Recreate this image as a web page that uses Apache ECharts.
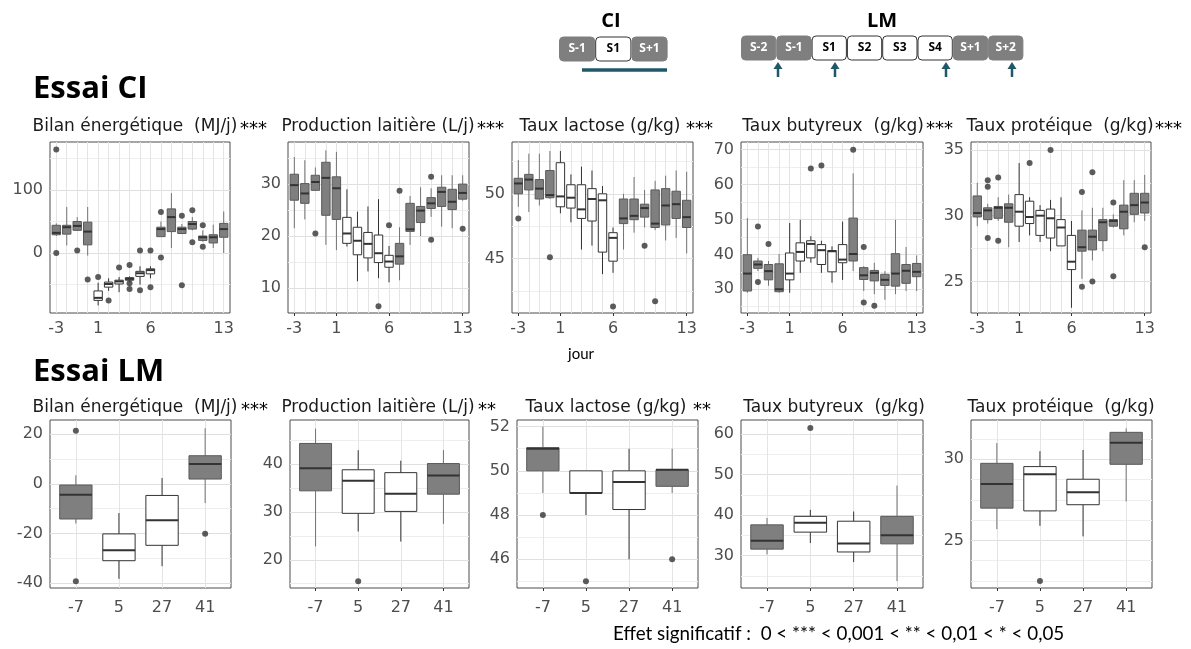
<!DOCTYPE html>
<html><head><meta charset="utf-8">
<script src="https://cdn.jsdelivr.net/npm/echarts@6/dist/echarts.min.js"></script>
<style>html,body{margin:0;padding:0;background:#fff}#c{width:1191px;height:649px}</style>
</head><body><div id="c"></div>
<script>
// ---------- categories ----------
const ciDays = ['-3','-2','-1','0','1','2','3','4','5','6','7','8','9','10','11','12','13'];
const ciDayLabels = ['-3','1','6','13'];
const ciWhiteDays = ['1','2','3','4','5','6'];
const ciWhiteDaysProd = ['2','3','4','5','6'];
const lmDays = ['-7','5','27','41'];
const lmWhiteDays = ['5','27'];

// ---------- Essai CI : [min, Q1, median, Q3, max] per day ----------
const ciBilanBoxes = [[27,29,32,44,47],[12,30,41,44,73],[35,36,43,50,57],[-4,13,34,49,73],[-83,-75,-71,-60,-47],[-60,-54,-49,-46,-40],[-62,-49,-45,-43,-38],[-46,-43,-41,-39,-37],[-50,-37,-32,-29,-21],[-40,-33,-27,-25,-21],[26,26,38,41,50],[8,34,57,70,95],[30,31,38,41,46],[36,38,46,50,57],[18,20,25,27,36],[8,16,25,29,45],[0,25,38,47,66]];
const ciBilanOutliers = [['-3',164],['-3',0],['-1',4],['0',-42],['1',-38],['2',-75],['3',-23],['4',-19],['4',-48],['4',-57],['5',4],['5',-59],['6',4],['6',-54],['7',65],['7',-7],['9',59],['9',-51],['10',68],['10',17],['11',44],['11',10]];

const ciProdBoxes = [[21.5,26.9,29.8,31.9,35.2],[23.2,26.3,28.2,30.1,34.6],[28.8,28.8,30.4,31.7,33.2],[18.3,24.0,31.2,34.2,36.5],[17.3,23.2,29.2,31.4,36.2],[18.0,18.6,20.5,23.6,29.0],[11.3,16.4,19.1,21.7,24.7],[13.2,15.8,18.5,20.7,25.7],[11.9,14.9,16.7,20.2,27.1],[11.1,14.0,15.1,16.3,18.1],[11.5,14.6,16.1,18.6,21.7],[18.3,20.9,21.3,26.3,27.7],[20.0,22.6,24.9,25.7,29.4],[23.7,25.3,26.3,27.4,29.2],[21.8,25.7,28.5,29.4,31.7],[21.5,25.1,26.6,29.0,31.7],[26.8,27.1,28.3,30.0,31.7]];
const ciProdOutliers = [['-1',20.5],['5',6.5],['6',22.1],['7',28.7],['10',31.4],['10',19.3],['13',21.4]];

const ciLactBoxes = [[49.0,50.0,50.8,51.2,52.6],[48.6,50.3,51.1,51.5,53.1],[49.1,49.6,50.4,51.1,53.1],[49.6,49.7,49.9,51.8,53.3],[48.5,49.0,49.8,52.4,53.3],[47.8,48.9,49.7,50.7,51.5],[45.7,48.1,48.8,50.7,52.1],[46.0,47.9,49.6,50.4,51.8],[43.8,45.5,49.5,50.0,50.6],[43.9,44.8,46.6,47.0,47.4],[45.7,47.7,48.1,49.6,50.0],[47.0,48.0,48.3,49.6,51.3],[47.4,48.2,48.9,49.2,50.3],[47.2,47.4,47.7,50.3,51.0],[46.4,47.6,49.1,50.4,51.4],[46.6,48.1,49.2,50.2,51.8],[45.4,47.4,48.2,49.5,51.7]];
const ciLactOutliers = [['-3',48.1],['0',45.1],['6',41.3],['9',46.0],['10',41.7]];

const ciButyBoxes = [[29.0,29.5,34.5,39.9,50.4],[35.2,36.0,37.1,38.1,39.0],[31.0,32.7,35.2,37.1,38.1],[29.0,29.3,30.0,37.3,40.1],[29.0,32.7,34.5,40.4,49.0],[34.7,38.1,40.7,43.3,49.9],[37.6,39.0,43.0,43.9,45.2],[34.7,37.1,41.2,42.8,43.9],[31.9,35.0,40.9,41.1,42.3],[32.7,37.6,38.5,42.8,49.4],[35.2,38.1,40.1,50.4,63.2],[29.5,32.8,34.0,36.2,36.6],[28.6,32.4,34.7,35.4,37.6],[27.0,31.1,32.7,34.3,35.2],[28.6,30.9,34.5,40.2,49.9],[29.5,31.7,35.3,37.1,42.1],[29.5,33.6,35.0,37.4,39.7]];
const ciButyOutliers = [['-2',48.0],['-2',32.1],['-1',43.0],['3',64.6],['4',65.5],['7',70.0],['8',42.1],['8',26.2],['9',25.3]];

const ciProtBoxes = [[29.2,29.9,30.2,31.5,32.5],[29.4,29.7,30.4,30.6,30.9],[29.6,29.8,30.6,30.7,31.4],[27.6,29.5,30.6,30.9,31.6],[28.0,29.2,30.3,31.6,34.0],[28.5,29.4,29.9,31.1,31.4],[28.0,28.5,30.0,30.4,30.8],[27.3,28.3,29.8,30.5,31.2],[27.7,27.7,29.1,29.7,31.4],[23.0,25.9,26.5,28.5,29.6],[25.2,27.3,27.6,28.9,30.4],[26.6,27.4,28.4,28.9,30.6],[27.3,28.1,29.5,29.7,30.6],[29.1,29.2,29.6,29.7,30.1],[28.5,29.0,30.3,30.8,32.7],[29.5,30.1,30.8,31.7,32.7],[29.6,30.2,31.0,31.7,33.1]];
const ciProtOutliers = [['-2',32.7],['-2',32.2],['-2',28.3],['-1',32.9],['-1',28.1],['2',34.0],['4',35.0],['7',31.8],['7',24.6],['8',33.3],['8',25.0],['10',31.0],['10',25.4],['13',27.6]];

// ---------- Essai LM ----------
const lmBilanBoxes = [[-16,-14.2,-4.4,-0.5,3.4],[-38.3,-31,-26.8,-20.2,-11.8],[-33.2,-24.8,-14.7,-4.7,2.3],[-7.8,1.9,8,11.3,22.4]];
const lmBilanOutliers = [['-7',21.4],['-7',-39.3],['41',-20.1]];
const lmProdBoxes = [[22.8,34.4,39.1,44.3,47.4],[25.9,29.7,36.5,38.8,42.9],[23.8,30.1,33.8,38.2,40.7],[27.5,33.7,37.6,40.1,42.9]];
const lmProdOutliers = [['5',15.5]];
const lmLactBoxes = [[49,50,51,51.05,52],[48,49,49,50,50],[46,48.25,49.5,50,51],[49,49.3,50.05,50.05,51]];
const lmLactOutliers = [['-7',48],['5',45],['41',46]];
const lmButyBoxes = [[30.3,31.6,33.7,37.6,39.3],[33.1,35.8,38.1,39.7,41.3],[28.4,30.9,33,38.5,40.9],[23.7,32.9,35,39.7,47.3]];
const lmButyOutliers = [['5',61.5]];
const lmProtBoxes = [[25.7,26.99,28.48,29.75,31],[25.9,26.82,29.08,29.55,30.5],[25.25,27.2,27.97,28.77,30.57],[27.4,29.69,31.02,31.66,31.9]];
const lmProtOutliers = [['5',22.5]];

// ---------- tick labels / grid values ----------
const ciBilanTicks = [0,100], ciBilanMinor = [-50,50,150];
const ciProdTicks = [10,20,30], ciProdMinor = [15,25,35];
const ciLactTicks = [45,50], ciLactMinor = [42.5,47.5,52.5];
const ciButyTicks = [30,40,50,60,70], ciButyMinor = [25,35,45,55,65];
const ciProtTicks = [25,30,35], ciProtMinor = [27.5,32.5];
const lmBilanTicks = [-40,-20,0,20], lmBilanMinor = [-30,-10,10];
const lmProdTicks = [20,30,40], lmProdMinor = [15,25,35,45];
const lmLactTicks = [46,48,50,52], lmLactMinor = [45,47,49,51];
const lmButyTicks = [30,40,50,60], lmButyMinor = [25,35,45,55];
const lmProtTicks = [25,30], lmProtMinor = [22.5,23.75,26.25,27.5,28.75,31.25];

// ---------- panel layout ----------
const panels = [
  {boxes:ciBilanBoxes, out:ciBilanOutliers, cats:ciDays, lab:ciDayLabels, white:ciWhiteDays, ticks:ciBilanTicks, minor:ciBilanMinor, y:[-95,176], g:[50,142,180,171], frac:0.8, title:'Bilan énergétique  (MJ/j)', tx:135, stars:'***', sx:240},
  {boxes:ciProdBoxes, out:ciProdOutliers, cats:ciDays, lab:ciDayLabels, white:ciWhiteDaysProd, ticks:ciProdTicks, minor:ciProdMinor, y:[5.2,38.1], g:[288,142,181,171], frac:0.8, title:'Production laitière (L/j)', tx:378, stars:'***', sx:477},
  {boxes:ciLactBoxes, out:ciLactOutliers, cats:ciDays, lab:ciDayLabels, white:ciWhiteDays, ticks:ciLactTicks, minor:ciLactMinor, y:[40.8,54.0], g:[512,142,181,171], frac:0.8, title:'Taux lactose (g/kg)', tx:600, stars:'***', sx:686},
  {boxes:ciButyBoxes, out:ciButyOutliers, cats:ciDays, lab:ciDayLabels, white:ciWhiteDays, ticks:ciButyTicks, minor:ciButyMinor, y:[23.2,72.2], g:[741,142,182,171], frac:0.8, title:'Taux butyreux  (g/kg)', tx:833, stars:'***', sx:926},
  {boxes:ciProtBoxes, out:ciProtOutliers, cats:ciDays, lab:ciDayLabels, white:ciWhiteDays, ticks:ciProtTicks, minor:ciProtMinor, y:[22.6,35.6], g:[971,142,180,171], frac:0.8, title:'Taux protéique  (g/kg)', tx:1060, stars:'***', sx:1155},
  {boxes:lmBilanBoxes, out:lmBilanOutliers, cats:lmDays, lab:lmDays, white:lmWhiteDays, ticks:lmBilanTicks, minor:lmBilanMinor, y:[-42,25.7], g:[50,420,181,168], frac:0.75, title:'Bilan énergétique  (MJ/j)', tx:135, stars:'***', sx:241},
  {boxes:lmProdBoxes, out:lmProdOutliers, cats:lmDays, lab:lmDays, white:lmWhiteDays, ticks:lmProdTicks, minor:lmProdMinor, y:[14.1,49.2], g:[290,420,179,168], frac:0.75, title:'Production laitière (L/j)', tx:378, stars:'**', sx:478},
  {boxes:lmLactBoxes, out:lmLactOutliers, cats:lmDays, lab:lmDays, white:lmWhiteDays, ticks:lmLactTicks, minor:lmLactMinor, y:[44.7,52.3], g:[517,420,181,168], frac:0.75, title:'Taux lactose (g/kg)', tx:606, stars:'**', sx:693},
  {boxes:lmButyBoxes, out:lmButyOutliers, cats:lmDays, lab:lmDays, white:lmWhiteDays, ticks:lmButyTicks, minor:lmButyMinor, y:[22.0,63.5], g:[741,420,182,168], frac:0.75, title:'Taux butyreux  (g/kg)', tx:834, stars:'', sx:0},
  {boxes:lmProtBoxes, out:lmProtOutliers, cats:lmDays, lab:lmDays, white:lmWhiteDays, ticks:lmProtTicks, minor:lmProtMinor, y:[22.07,32.42], g:[971,420,181,168], frac:0.75, title:'Taux protéique  (g/kg)', tx:1061, stars:'', sx:0}
];

const FONT = '"DejaVu Sans", sans-serif';
const grids = [], xAxes = [], yAxes = [], series = [], graphics = [];

function makeRender(cats, whiteList, frac) {
  return function (params, api) {
    const i = api.value(0);
    const p = [1,2,3,4,5].map(k => api.coord([i, api.value(k)]));
    const cx = p[0][0];
    const w = api.size([frac, 0])[0];
    const white = whiteList.indexOf(cats[i]) >= 0;
    const fill = white ? '#ffffff' : '#7f7f7f';
    const stroke = white ? '#333333' : '#5a5a5a';
    const whisk = white ? '#333333' : '#737373';
    return {type:'group', children:[
      {type:'line', shape:{x1:cx, y1:p[0][1], x2:cx, y2:p[1][1]}, style:{stroke:whisk, lineWidth:1}},
      {type:'line', shape:{x1:cx, y1:p[3][1], x2:cx, y2:p[4][1]}, style:{stroke:whisk, lineWidth:1}},
      {type:'rect', shape:{x:cx-w/2, y:p[3][1], width:w, height:p[1][1]-p[3][1]}, style:{fill:fill, stroke:stroke, lineWidth:1}},
      {type:'line', shape:{x1:cx-w/2, y1:p[2][1], x2:cx+w/2, y2:p[2][1]}, style:{stroke:'#333333', lineWidth:2}}
    ]};
  };
}

panels.forEach((P, k) => {
  const top = k < 5;
  const n = P.cats.length;
  grids.push({left:P.g[0], top:P.g[1], width:P.g[2], height:P.g[3], show:true, borderColor:'#4d4d4d', borderWidth:1, backgroundColor:'#fff', containLabel:false});
  const labIdx = P.lab.map(c => P.cats.indexOf(c));
  xAxes.push({gridIndex:k, type:'value', min:-0.6, max:n-1+0.6,
    axisLine:{show:false}, splitLine:{show:false},
    axisTick:{show:true, customValues:labIdx, length:3, lineStyle:{color:'#333'}},
    axisLabel:{customValues:labIdx, formatter:v => P.cats[Math.round(v)], color:'#4d4d4d', fontSize:16, fontFamily:'DejaVu Sans', margin: top ? 8 : 12}});
  yAxes.push({gridIndex:k, type:'value', min:P.y[0], max:P.y[1],
    axisLine:{show:false}, splitLine:{show:false},
    axisTick:{show:true, customValues:P.ticks, length:3, lineStyle:{color:'#333'}},
    axisLabel:{customValues:P.ticks, color:'#4d4d4d', fontSize:16, fontFamily:'DejaVu Sans', margin:7}});
  const gl = [];
  P.ticks.forEach(v => gl.push({yAxis:v, lineStyle:{color:'#e0e0e0', width:1, type:'solid'}}));
  P.minor.forEach(v => gl.push({yAxis:v, lineStyle:{color:'#eeeeee', width:1, type:'solid'}}));
  P.cats.forEach((c, i) => gl.push({xAxis:i, lineStyle:{color:'#e4e4e4', width:1, type:'solid'}}));
  series.push({type:'scatter', xAxisIndex:k, yAxisIndex:k, z:4, symbolSize:6, itemStyle:{color:'#333'},
    data:P.out.map(o => [P.cats.indexOf(o[0]), o[1]]),
    markLine:{silent:true, z:1, symbol:['none','none'], label:{show:false}, emphasis:{disabled:true}, animation:false, data:gl}});
  series.push({type:'custom', xAxisIndex:k, yAxisIndex:k, z:3, renderItem:makeRender(P.cats, P.white, P.frac),
    encode:{x:0, y:[1,2,3,4,5]}, data:P.boxes.map((b, i) => [i].concat(b))});
  const ty = top ? 127 : 408;
  graphics.push({type:'text', x:P.tx, y:ty, style:{text:P.title, fill:'#1a1a1a', font:'17px '+FONT, textAlign:'center', textVerticalAlign:'middle'}});
  if (P.stars) graphics.push({type:'text', x:P.sx, y:ty+2, style:{text:P.stars, fill:'#000', font:'18px '+FONT, textAlign:'left', textVerticalAlign:'middle'}});
});

// headings & notes
const SANS = '"Open Sans", Lato, sans-serif';
graphics.push({type:'text', x:33, y:89, style:{text:'Essai CI', fill:'#000', font:'bold 31px '+SANS, textVerticalAlign:'middle'}});
graphics.push({type:'text', x:33, y:372, style:{text:'Essai LM', fill:'#000', font:'bold 31px '+SANS, textVerticalAlign:'middle'}});
graphics.push({type:'text', x:581, y:354, style:{text:'jour', fill:'#000', font:'15px Lato, sans-serif', textAlign:'center', textVerticalAlign:'middle'}});
graphics.push({type:'text', x:613, y:634, style:{text:'Effet significatif :  0 < *** < 0,001 < ** < 0,01 < * < 0,05', fill:'#000', font:'18.8px Lato, sans-serif', textVerticalAlign:'middle'}});

// period diagram
const ciPeriods = ['S-1','S1','S+1'];
const ciPeriodsWhite = ['S1'];
const lmPeriods = ['S-2','S-1','S1','S2','S3','S4','S+1','S+2'];
const lmPeriodsWhite = ['S1','S2','S3','S4'];
const TEAL = '#1f5868';
graphics.push({type:'text', x:611, y:21, style:{text:'CI', fill:'#000', font:'bold 20px '+SANS, textAlign:'center', textVerticalAlign:'middle'}});
graphics.push({type:'text', x:882, y:21, style:{text:'LM', fill:'#000', font:'bold 20px '+SANS, textAlign:'center', textVerticalAlign:'middle'}});
function periodBoxes(list, whites, x0, w, y0, h) {
  list.forEach((s, i) => {
    const white = whites.indexOf(s) >= 0;
    const x = x0 + i * w;
    graphics.push({type:'rect', shape:{x:x+0.5, y:y0, width:w-1, height:h, r:4}, style:{fill: white ? '#fff' : '#7f7f7f', stroke: white ? '#333' : '#7f7f7f', lineWidth:1}});
    graphics.push({type:'text', x:x+w/2, y:y0+h/2, style:{text:s, fill: white ? '#000' : '#fff', font:'bold 12px '+SANS, textAlign:'center', textVerticalAlign:'middle'}});
  });
}
periodBoxes(ciPeriods, ciPeriodsWhite, 559, 36.2, 37, 24);
periodBoxes(lmPeriods, lmPeriodsWhite, 741, 35.3, 36, 24);
graphics.push({type:'line', shape:{x1:582, y1:70, x2:667, y2:70}, style:{stroke:TEAL, lineWidth:3.5}});
[778, 835, 946, 1012].forEach(ax => {
  graphics.push({type:'polygon', shape:{points:[[ax,62],[ax-4.5,69],[ax+4.5,69]]}, style:{fill:TEAL}});
  graphics.push({type:'line', shape:{x1:ax, y1:68, x2:ax, y2:77}, style:{stroke:TEAL, lineWidth:2.5}});
});

const chart = echarts.init(document.getElementById('c'), null, {renderer:'canvas'});
chart.setOption({
  animation:false,
  backgroundColor:'#fff',
  grid:grids, xAxis:xAxes, yAxis:yAxes, series:series,
  graphic:{elements:graphics}
});
</script></body></html>
